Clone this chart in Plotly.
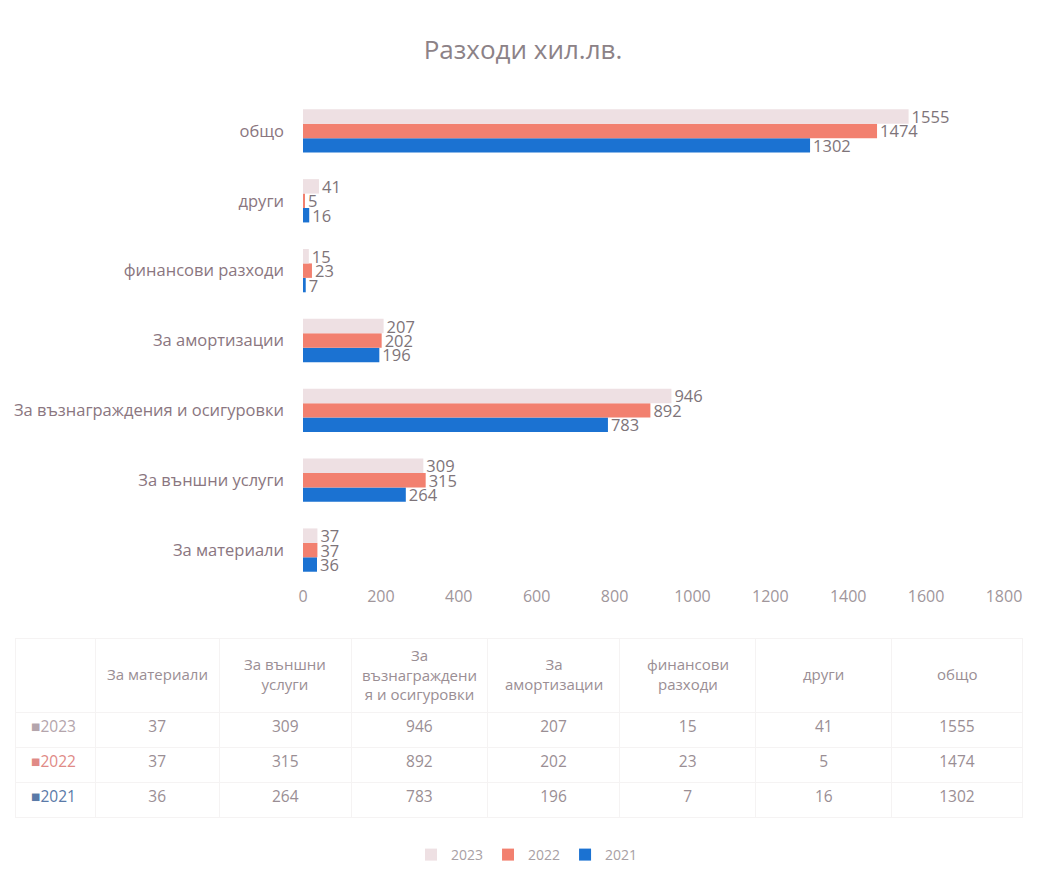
import plotly.graph_objects as go

categories = ["За материали", "За външни услуги", "За възнаграждения и осигуровки",
              "За амортизации", "финансови разходи", "други", "общо"]
header_labels = ["За материали", "За външни<br>услуги", "За<br>възнаграждени<br>я и осигуровки",
                 "За<br>амортизации", "финансови<br>разходи", "други", "общо"]
years = ["2021", "2022", "2023"]
v2021 = [36, 264, 783, 196, 7, 16, 1302]
v2022 = [37, 315, 892, 202, 23, 5, 1474]
v2023 = [37, 309, 946, 207, 15, 41, 1555]
x_ticks = [0, 200, 400, 600, 800, 1000, 1200, 1400, 1600, 1800]

colors = {"2021": "#1b72d2", "2022": "#f2806f", "2023": "#eee0e3"}
rowcol = {"2021": "#5a7aa8", "2022": "#e08a86", "2023": "#b4a5ac"}
series = {"2021": v2021, "2022": v2022, "2023": v2023}

# page body has an 8px margin: the figure is drawn 8px right/down
OFF = 8
W, H = 1040 - OFF, 869 - OFF
ml, mr, mt, mb = 2, 8, 12, 10
pw, ph = W - ml - mr, H - mt - mb

def px_x(p):
    return min(1.0, max(0.0, (p - OFF - ml) / pw))

def px_y(p):
    return min(1.0, max(0.0, (H - mb - (p - OFF)) / ph))

LABEL = "#8a7680"
NUM = "#7e7479"
FONT = "Open Sans, Noto Sans, sans-serif"

fig = go.Figure()
for y in years:
    fig.add_trace(go.Bar(
        y=categories, x=series[y], name=y, orientation="h",
        marker=dict(color=colors[y], line=dict(width=0)),
        text=[str(v) for v in series[y]], textposition="outside",
        textfont=dict(color=NUM, size=16.5, family=FONT),
        constraintext="none", cliponaxis=False,
    ))

# data table
row_years = ["2023", "2022", "2021"]
first_col = [f"\u00a0\u00a0■{y}" for y in row_years]
cols = [first_col]
for i in range(len(categories)):
    cols.append([str(series[y][i]) for y in row_years])

tbl_x0, tbl_x1 = 15, 1022
colw = [80, 124, 132, 136, 132, 136, 136, 130]
fig.add_trace(go.Table(
    domain=dict(x=[px_x(tbl_x0), px_x(tbl_x1)], y=[px_y(835), px_y(638)]),
    columnwidth=colw,
    header=dict(values=[""] * 8, height=74,
                align="center", line=dict(color="#f5f3f3", width=1),
                fill=dict(color="white"),
                font=dict(color="#9a8e94", size=15, family=FONT)),
    cells=dict(values=cols, height=35,
               align=["left"] + ["center"] * 7,
               line=dict(color="#f5f3f3", width=1),
               fill=dict(color="white"),
               font=dict(color=[[rowcol[y] for y in row_years]] + ["#9a8e94"] * 7,
                         size=15.5, family=FONT)),
))

# header texts (centred per line)
scale = (tbl_x1 - tbl_x0) / sum(colw)
edge = tbl_x0 + colw[0] * scale
for lab, w in zip(header_labels, colw[1:]):
    cx = edge + w * scale / 2
    edge += w * scale
    fig.add_annotation(text=lab, x=px_x(cx), y=px_y(674), xref="paper", yref="paper",
                       xanchor="center", yanchor="middle", showarrow=False, align="center",
                       font=dict(size=15, color="#9a8e94", family=FONT))

fig.update_layout(
    width=W, height=H,
    margin=dict(l=ml, r=mr, t=mt, b=mb, autoexpand=False),
    paper_bgcolor="white", plot_bgcolor="white",
    title=dict(text="Разходи хил.лв.", x=px_x(523), xanchor="center", xref="paper",
               y=1 - (50 - OFF) / H, yref="container", yanchor="middle",
               font=dict(size=26, color="#8c8287", family=FONT)),
    barmode="group", bargap=0.38, bargroupgap=0,
    showlegend=True,
    legend=dict(orientation="h", x=px_x(527), xanchor="center", y=px_y(855), yanchor="middle",
                traceorder="reversed", font=dict(size=14, color="#a8a0a4", family=FONT),
                itemwidth=30),
    xaxis=dict(domain=[px_x(303), px_x(1004)], range=[0, 1800], tickvals=x_ticks,
               showgrid=False, zeroline=False, showline=False, ticks="",
               tickfont=dict(size=16, color="#a0969b", family=FONT),
               anchor="y", fixedrange=True, automargin=False),
    yaxis=dict(domain=[px_y(585), px_y(96)], categoryorder="array", categoryarray=categories,
               showgrid=False, zeroline=False, showline=False, ticks="",
               tickfont=dict(size=16.5, color=LABEL, family=FONT), ticklabelstandoff=18,
               automargin=False),
)

fig.write_html("out.html")
